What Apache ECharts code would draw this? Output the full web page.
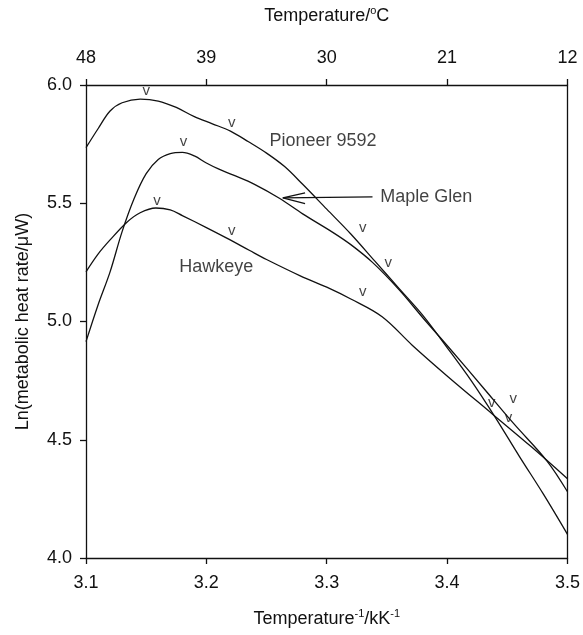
<!DOCTYPE html>
<html>
<head>
<meta charset="utf-8">
<script src="https://cdn.jsdelivr.net/npm/echarts@6/dist/echarts.min.js"></script>
<style>html,body{margin:0;padding:0;background:#fff;}#c{width:583px;height:635px;}</style>
</head>
<body>
<div id="c"></div>
<script>
// ---- data ----
const pioneer = [[3.100,5.735],[3.110,5.815],[3.120,5.89],[3.130,5.925],[3.145,5.94],[3.160,5.932],[3.175,5.905],[3.190,5.866],[3.205,5.836],[3.220,5.805],[3.235,5.76],[3.250,5.712],[3.265,5.655],[3.280,5.58],[3.300,5.475],[3.320,5.37],[3.340,5.255],[3.360,5.14],[3.380,5.025],[3.400,4.89],[3.420,4.75],[3.440,4.595],[3.460,4.43],[3.480,4.27],[3.500,4.10]];
const mapleGlen = [[3.100,4.915],[3.110,5.07],[3.120,5.21],[3.130,5.38],[3.140,5.52],[3.150,5.625],[3.160,5.685],[3.170,5.71],[3.180,5.715],[3.190,5.70],[3.200,5.67],[3.210,5.645],[3.222,5.62],[3.240,5.58],[3.261,5.52],[3.280,5.455],[3.305,5.377],[3.320,5.325],[3.338,5.25],[3.360,5.135],[3.380,5.015],[3.402,4.887],[3.430,4.72],[3.455,4.57],[3.483,4.41],[3.500,4.28]];
const hawkeye = [[3.100,5.21],[3.110,5.285],[3.120,5.345],[3.134,5.42],[3.145,5.46],[3.158,5.48],[3.170,5.472],[3.180,5.448],[3.200,5.397],[3.219,5.347],[3.236,5.30],[3.250,5.262],[3.278,5.193],[3.300,5.145],[3.320,5.095],[3.346,5.02],[3.371,4.90],[3.400,4.77],[3.438,4.607],[3.470,4.47],[3.500,4.335]];
const vMarkX = [3.150,3.221,3.181,3.159,3.221,3.330,3.351,3.330,3.437,3.455,3.451];
const vMarkY = [5.974,5.842,5.759,5.508,5.382,5.396,5.250,5.124,4.657,4.671,4.594];
const curveNames = ['Pioneer 9592','Maple Glen','Hawkeye'];
const curveNameX = [3.252,3.344,3.177];
const curveNameY = [5.762,5.527,5.23];
const arrowShaft = [[3.338,5.527],[3.2635,5.523]];
const arrowHead = [[3.282,5.544],[3.2635,5.523],[3.282,5.498]];
const bottomTicks = {min:3.1,max:3.5,interval:0.1};
const leftTicks = {min:4.0,max:6.0,interval:0.5};
const topTickLabels = ['48','39','30','21','12'];

// ---- chart ----
const FONT = 'Liberation Sans, Arial, sans-serif';
const INK = '#111';
const chart = echarts.init(document.getElementById('c'), null, {renderer:'canvas'});
const lineSeries = (name, data) => ({
  name, type:'line', data, smooth:0.35, symbol:'none', xAxisIndex:0, yAxisIndex:0,
  lineStyle:{color:INK,width:1.3}, silent:true, z:3
});
const nameStyle = {fontSize:18, fontFamily:FONT, color:INK, lineHeight:22,
  rich:{sup:{fontSize:11, fontFamily:FONT, color:INK, lineHeight:12, verticalAlign:'top'}}};
chart.setOption({
  animation:false,
  backgroundColor:'#fff',
  grid:{left:86,right:15,top:84,bottom:73,containLabel:false},
  xAxis:[
    {type:'value', position:'bottom', min:bottomTicks.min, max:bottomTicks.max, interval:bottomTicks.interval,
     name:'Temperature{sup|-1}/kK{sup|-1}', nameLocation:'middle', nameGap:50, nameTextStyle:nameStyle,
     axisLine:{show:true,onZero:false,lineStyle:{color:INK,width:1.3}},
     axisTick:{show:true,inside:false,length:6,lineStyle:{color:INK,width:1.3}},
     axisLabel:{margin:16,fontSize:18,fontFamily:FONT,color:INK,formatter:v=>v.toFixed(1)},
     splitLine:{show:false}},
    {type:'category', position:'top', data:topTickLabels, boundaryGap:false,
     name:'Temperature/{sup|o}C', nameLocation:'middle', nameGap:58, nameTextStyle:nameStyle,
     axisLine:{show:true,onZero:false,lineStyle:{color:INK,width:1.3}},
     axisTick:{show:true,inside:false,length:6,alignWithLabel:true,lineStyle:{color:INK,width:1.3}},
     axisLabel:{margin:18,fontSize:18,fontFamily:FONT,color:INK,interval:0},
     splitLine:{show:false}}
  ],
  yAxis:[
    {type:'value', position:'left', min:leftTicks.min, max:leftTicks.max, interval:leftTicks.interval,
     name:'Ln(metabolic heat rate/μW)', nameLocation:'middle', nameGap:52, nameTextStyle:nameStyle,
     axisLine:{show:true,onZero:false,lineStyle:{color:INK,width:1.3}},
     axisTick:{show:true,inside:false,length:6,lineStyle:{color:INK,width:1.3}},
     axisLabel:{margin:14,fontSize:18,fontFamily:FONT,color:INK,formatter:v=>v.toFixed(1)},
     splitLine:{show:false}},
    {type:'value', position:'right', min:leftTicks.min, max:leftTicks.max,
     axisLine:{show:true,onZero:false,lineStyle:{color:INK,width:1.3}},
     axisTick:{show:false}, axisLabel:{show:false}, splitLine:{show:false}}
  ],
  series:[
    lineSeries('Pioneer 9592', pioneer),
    lineSeries('Maple Glen', mapleGlen),
    lineSeries('Hawkeye', hawkeye),
    {type:'line', data:arrowShaft, symbol:'none', lineStyle:{color:INK,width:1.3}, silent:true},
    {type:'line', data:arrowHead, symbol:'none', lineStyle:{color:INK,width:1.3}, silent:true},
    {type:'scatter', symbolSize:1, itemStyle:{color:'rgba(0,0,0,0)'}, silent:true,
     data:vMarkX.map((x,i)=>[x,vMarkY[i]]),
     label:{show:true, position:'inside', formatter:'v', fontSize:15, fontFamily:FONT, color:INK}},
    {type:'scatter', symbolSize:1, itemStyle:{color:'rgba(0,0,0,0)'}, silent:true,
     data:curveNames.map((n,i)=>({name:n, value:[curveNameX[i],curveNameY[i]]})),
     label:{show:true, position:'right', distance:0, formatter:'{b}', fontSize:18, fontFamily:FONT, color:INK}}
  ]
});
</script>
</body>
</html>
